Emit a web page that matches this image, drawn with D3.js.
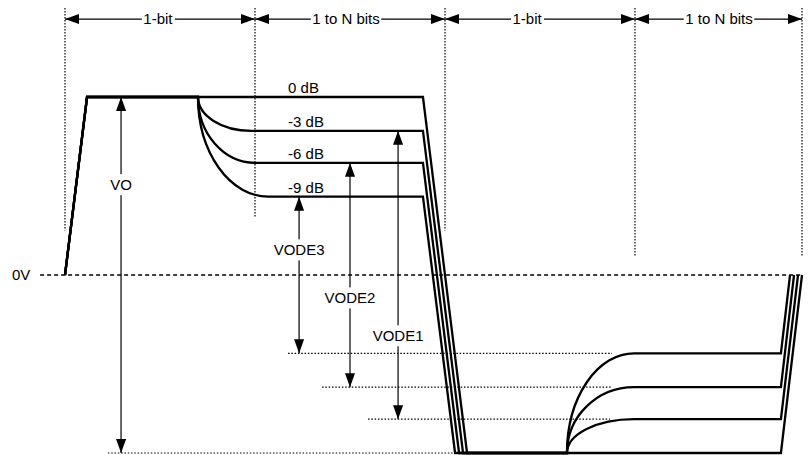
<!DOCTYPE html>
<html>
<head>
<meta charset="utf-8">
<script src="https://cdn.jsdelivr.net/npm/d3@7"></script>
<style>
  body { margin: 0; background: #fff; }
  text { font-family: "Liberation Sans", Arial, sans-serif; font-size: 15px; fill: #000; }
</style>
</head>
<body>
<div id="chart"></div>
<script>
// de-emphasis levels, amplitude relative to VO
var levels      = ['0 dB', '-3 dB', '-6 dB', '-9 dB'];
var amplitude   = [1.00, 0.81, 0.63, 0.44];

// swing annotations (one per level)
var swingNames  = ['VO', 'VODE1', 'VODE2', 'VODE3'];
var swingAt     = [0.295, 1.753, 1.500, 1.232];   // bit time of the arrow
var swingLabelV = [0.506, -0.343, -0.130, 0.140]; // label height (V)
var refStart    = [0.226, 1.595, 1.353, 1.174];   // dotted low-level reference
var refEnd      = [2.079, 2.868, 2.879, 2.879];

// bit periods
var bitEdges    = [0, 1, 2, 3, 3.879];
var bitLabels   = ['1-bit', '1 to N bits', '1-bit', '1 to N bits'];
var bitLabelAt  = [0.489, 1.479, 2.432, 3.442];
var guideBottom = [0.25, 0.32, 0.25, 0.11, 0.11];

// waveform timing (in bits)
var tHigh = 0.116, tDeemphHigh = 0.70, tFall = 1.884;
var tDeemphLow = 2.642, tSettleLow = 2.995, tRise = 3.768;
var settleHigh  = [null, 0.98, 1.00, 1.07];
var fallEnd     = [2.116, 2.095, 2.074, 2.053];
var riseEnd     = [3.879, 3.858, 3.837, 3.816];

var chart_width = 808
var chart_height = 455

var x = d3.scaleLinear().domain([0, 1]).range([65, 255]);
var y = d3.scaleLinear().domain([-1, 1]).range([453, 97]);

var svg = d3.select('#chart')
    .append('svg')
    .attr('width', chart_width)
    .attr('height', chart_height);

// arrow head
svg.append('defs').append('marker')
    .attr('id', 'head')
    .attr('viewBox', '0 0 14 10')
    .attr('refX', 14)
    .attr('refY', 5)
    .attr('markerWidth', 14)
    .attr('markerHeight', 10)
    .attr('markerUnits', 'userSpaceOnUse')
    .attr('orient', 'auto-start-reverse')
    .append('path')
    .attr('d', 'M0,0L14,5L0,10Z')
    .attr('fill', '#000');

// vertical bit guides
svg.selectAll('line.guide')
    .data(bitEdges)
    .enter()
    .append('line')
    .attr('class', 'guide')
    .attr('x1', function(d){ return x(d); })
    .attr('x2', function(d){ return x(d); })
    .attr('y1', y(1.5))
    .attr('y2', function(d, i){ return y(guideBottom[i]); })
    .attr('stroke', '#000')
    .attr('stroke-width', 1.2)
    .attr('stroke-dasharray', '1.5,1.5');

// 0V line
svg.append('line')
    .attr('x1', x(-0.131))
    .attr('x2', x(3.879))
    .attr('y1', y(0))
    .attr('y2', y(0))
    .attr('stroke', '#000')
    .attr('stroke-width', 1.4)
    .attr('stroke-dasharray', '4,3');

svg.append('text')
    .attr('x', x(-0.279))
    .attr('y', y(0) + 5)
    .text('0V');

// low level dotted references
svg.selectAll('line.ref')
    .data(amplitude)
    .enter()
    .append('line')
    .attr('class', 'ref')
    .attr('x1', function(d, i){ return x(refStart[i]); })
    .attr('x2', function(d, i){ return x(refEnd[i]); })
    .attr('y1', function(d){ return y(-d); })
    .attr('y2', function(d){ return y(-d); })
    .attr('stroke', '#000')
    .attr('stroke-width', 1.2)
    .attr('stroke-dasharray', '1.5,1.8');

// quarter ellipse from (t0,v0) to (t1,v1), starting vertical
function arcTo(t0, v0, t1, v1) {
    var rx = Math.abs(x(t1) - x(t0)), ry = Math.abs(y(v1) - y(v0));
    var sweep = y(v1) > y(v0) ? 0 : 1;
    return 'A' + rx + ',' + ry + ' 0 0,' + sweep + ' ' + x(t1) + ',' + y(v1);
}

function wavePath(a, i) {
    var p = 'M' + x(0) + ',' + y(0) + 'L' + x(tHigh) + ',' + y(1);
    if (i === 0) {
        p += 'L' + x(tFall) + ',' + y(1);
        p += 'L' + x(fallEnd[i]) + ',' + y(-1);
        p += 'L' + x(tRise) + ',' + y(-1);
    } else {
        p += 'L' + x(tDeemphHigh) + ',' + y(1);
        p += arcTo(tDeemphHigh, 1, settleHigh[i], a);
        p += 'L' + x(tFall) + ',' + y(a);
        p += 'L' + x(fallEnd[i]) + ',' + y(-1);
        p += 'L' + x(tDeemphLow) + ',' + y(-1);
        p += arcTo(tDeemphLow, -1, tSettleLow, -a);
        p += 'L' + x(tRise) + ',' + y(-a);
    }
    p += 'L' + x(riseEnd[i]) + ',' + y(0);
    return p;
}

svg.selectAll('path.wave')
    .data(amplitude)
    .enter()
    .append('path')
    .attr('class', 'wave')
    .attr('d', wavePath)
    .attr('fill', 'none')
    .attr('stroke', '#000')
    .attr('stroke-width', 2.3)
    .attr('stroke-linejoin', 'miter');

// level labels
svg.selectAll('text.level')
    .data(levels)
    .enter()
    .append('text')
    .attr('class', 'level')
    .attr('x', x(1.174))
    .attr('y', function(d, i){ return y(amplitude[i]) - 4; })
    .text(function(d){ return d; });

// label with white box behind it
function boxedLabel(g, tx, ty, str, padX, padY) {
    var t = g.append('text')
        .attr('x', tx)
        .attr('y', ty)
        .attr('dy', '0.35em')
        .attr('text-anchor', 'middle')
        .text(str);
    var b = t.node().getBBox();
    g.insert('rect', 'text')
        .attr('x', b.x - padX)
        .attr('y', b.y - padY)
        .attr('width', b.width + 2 * padX)
        .attr('height', b.height + 2 * padY)
        .attr('fill', '#fff');
}

// bit period arrows
bitLabels.forEach(function(lbl, i){
    var g = svg.append('g');
    g.append('line')
        .attr('x1', x(bitEdges[i]))
        .attr('x2', x(bitEdges[i + 1]))
        .attr('y1', y(1.438))
        .attr('y2', y(1.438))
        .attr('stroke', '#000')
        .attr('stroke-width', 1.2)
        .attr('marker-start', 'url(#head)')
        .attr('marker-end', 'url(#head)');
    boxedLabel(g, x(bitLabelAt[i]), y(1.438), lbl, 1.5, 0);
});

// swing arrows
swingNames.forEach(function(lbl, i){
    var g = svg.append('g');
    var a = amplitude[i];
    g.append('line')
        .attr('x1', x(swingAt[i]))
        .attr('x2', x(swingAt[i]))
        .attr('y1', y(a))
        .attr('y2', y(-a))
        .attr('stroke', '#000')
        .attr('stroke-width', 1.2)
        .attr('marker-start', 'url(#head)')
        .attr('marker-end', 'url(#head)');
    boxedLabel(g, x(swingAt[i]), y(swingLabelV[i]), lbl, 0, 2);
});
</script>
</body>
</html>
